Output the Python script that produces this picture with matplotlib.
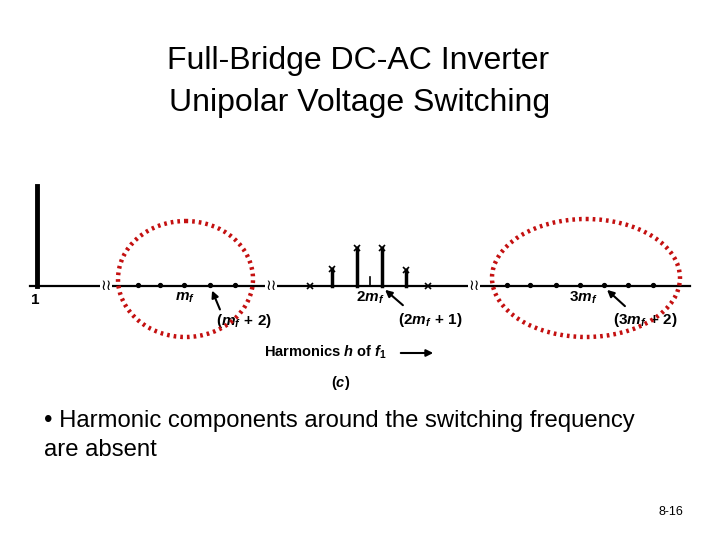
import matplotlib
matplotlib.use("Agg")
import matplotlib.pyplot as plt
from matplotlib.patches import Ellipse

plt.rcParams['font.family'] = ['Liberation Sans', 'DejaVu Sans']
plt.rcParams['mathtext.fontset'] = 'custom'
plt.rcParams['mathtext.rm'] = 'Liberation Sans:bold'
plt.rcParams['mathtext.it'] = 'Liberation Sans:italic:bold'
plt.rcParams['mathtext.bf'] = 'Liberation Sans:bold'

# spectrum data (position along the drawn harmonic axis, relative amplitude)
fund_pos = [37]
fund_amp = [1.0]
side_pos = [332, 357, 370, 382, 406]
side_amp = [0.17, 0.38, 0.09, 0.38, 0.16]
side_marked = [True, True, False, True, True]
tiny_pos = [310, 428]
absent_mf = [138, 160, 184, 210, 235]
absent_3mf = [507, 530, 556, 580, 604, 628, 653]
breaks = [106, 271, 474]

title_lines = ["Full-Bridge DC-AC Inverter", "Unipolar Voltage Switching"]
bullet_lines = ["• Harmonic components around the switching frequency", "are absent"]
slide_no = "8-16"

BASE = 286
SCALE = 100

fig = plt.figure(figsize=(7.2, 5.4), dpi=100)
ax = fig.add_axes([0, 0, 1, 1])
ax.set_xlim(0, 720)
ax.set_ylim(540, 0)
ax.axis('off')

# titles
ax.text(358, 61, title_lines[0], ha='center', va='center', fontsize=23)
ax.text(360, 103, title_lines[1], ha='center', va='center', fontsize=23)

# baseline
ax.plot([30, 690], [BASE, BASE], color='black', lw=1.6, zorder=2)

# fundamental
for p, a in zip(fund_pos, fund_amp):
    ax.plot([p, p], [BASE, BASE - a * SCALE], color='black', lw=3.5, zorder=3)

# sidebands around 2mf
for p, a, m in zip(side_pos, side_amp, side_marked):
    lw = 2.5 if m else 1.2
    ax.plot([p, p], [BASE, BASE - a * SCALE], color='black', lw=lw, zorder=3)
    if m:
        ax.plot(p, BASE - a * SCALE, marker='x', color='black', ms=4, mew=1.2, zorder=4)
ax.plot(tiny_pos, [BASE] * len(tiny_pos), 'x', color='black', ms=4, mew=1.2, zorder=4)

# absent harmonics (tiny bumps)
ax.plot(absent_mf + absent_3mf, [BASE - 1] * (len(absent_mf) + len(absent_3mf)),
        'o', color='black', ms=2.8, zorder=4)

# axis breaks
for b in breaks:
    ax.text(b, BASE, "≀≀", ha='center', va='center', fontsize=11,
            color='black', zorder=5,
            bbox=dict(facecolor='white', edgecolor='none', pad=0.1))

# labels
lab = dict(ha='center', va='center', fontsize=11, color='black')
ax.text(35, 300, "1", fontweight='bold', **lab)
ax.text(185, 298, r"$m_f$", **lab)
ax.text(244, 321, r"$(m_f\,+\,2)$", **lab)
ax.text(370, 298, r"$\mathrm{2}m_f$", **lab)
ax.text(430, 320, r"$(\mathrm{2}m_f\,+\,1)$", **lab)
ax.text(583, 298, r"$\mathrm{3}m_f$", **lab)
ax.text(645, 320, r"$(\mathrm{3}m_f\,+\,2)$", **lab)

arrow = dict(arrowstyle='-|>', color='black', lw=1.5, mutation_scale=10)
ax.annotate("", xy=(211, 288), xytext=(221, 312), arrowprops=arrow)
ax.annotate("", xy=(383, 288), xytext=(405, 307), arrowprops=arrow)
ax.annotate("", xy=(605, 288), xytext=(627, 308), arrowprops=arrow)

ax.text(264, 352, r"Harmonics $h$ of $f_1$", ha='left', va='center',
        fontsize=10.5, fontweight='bold')
ax.annotate("", xy=(436, 353), xytext=(398, 353),
            arrowprops=dict(arrowstyle='-|>', color='black', lw=1.5, mutation_scale=10))
ax.text(341, 383, r"$(c)$", ha='center', va='center', fontsize=10.5)

# red dotted ellipses
for cx, cy, w, h in [(185.5, 279, 135, 116), (586, 278, 188, 118)]:
    ax.add_patch(Ellipse((cx, cy), w, h, fill=False, edgecolor='#c41010',
                         lw=3.2, linestyle=(0, (0.6, 0.9)), zorder=6))

# bullet text
ax.text(44, 421, bullet_lines[0], ha='left', va='center', fontsize=17.2)
ax.text(44, 450, bullet_lines[1], ha='left', va='center', fontsize=17.2)
ax.text(683, 512, slide_no, ha='right', va='center', fontsize=9)

fig.savefig("out.png", dpi=100)
